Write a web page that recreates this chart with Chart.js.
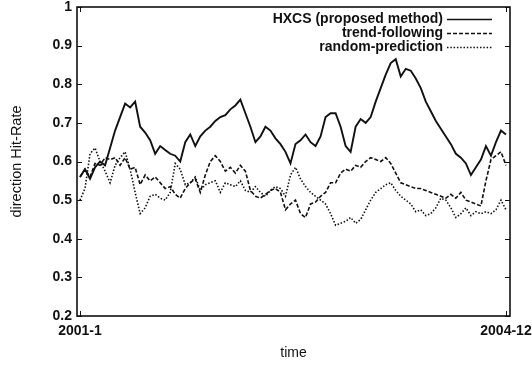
<!DOCTYPE html>
<html>
<head>
<meta charset="utf-8">
<script src="https://cdn.jsdelivr.net/npm/chart.js@4.4.1/dist/chart.umd.min.js"></script>
<style>
html,body{margin:0;padding:0;background:#fff;}
#wrap{width:532px;height:368px;position:relative;}
</style>
</head>
<body>
<div id="wrap"><canvas id="c"></canvas></div>
<script>
// ---- data ----
const xTickLabels = ['2001-1', '2004-12'];
const yTicks = [0.2, 0.3, 0.4, 0.5, 0.6, 0.7, 0.8, 0.9, 1];
const seriesNames = ['HXCS (proposed method)', 'trend-following', 'random-prediction'];
const axisTitles = { x: 'time', y: 'direction Hit-Rate' };

const hxcs = [
  0.56, 0.58, 0.555, 0.585, 0.60, 0.59, 0.635, 0.68, 0.715, 0.75,
  0.74, 0.755, 0.69, 0.675, 0.655, 0.62, 0.64, 0.63, 0.62, 0.615,
  0.60, 0.65, 0.67, 0.64, 0.665, 0.68, 0.69, 0.705, 0.715, 0.72,
  0.735, 0.745, 0.76, 0.725, 0.69, 0.65, 0.665, 0.69, 0.68, 0.66,
  0.645, 0.625, 0.595, 0.645, 0.655, 0.67, 0.65, 0.64, 0.665, 0.715,
  0.725, 0.725, 0.69, 0.64, 0.625, 0.69, 0.71, 0.70, 0.715, 0.755,
  0.79, 0.825, 0.855, 0.865, 0.82, 0.84, 0.835, 0.815, 0.79, 0.755,
  0.73, 0.705, 0.685, 0.665, 0.645, 0.62, 0.61, 0.595, 0.565, 0.585,
  0.605, 0.64, 0.615, 0.65, 0.68, 0.67
];
const trendFollowing = [
  0.56, 0.58, 0.56, 0.595, 0.59, 0.61, 0.605, 0.61, 0.59, 0.61,
  0.58, 0.585, 0.54, 0.565, 0.55, 0.56, 0.545, 0.53, 0.535, 0.515,
  0.505, 0.53, 0.545, 0.555, 0.52, 0.565, 0.60, 0.615, 0.60, 0.575,
  0.585, 0.57, 0.59, 0.575, 0.525, 0.51, 0.505, 0.515, 0.525, 0.53,
  0.52, 0.475, 0.49, 0.50, 0.465, 0.455, 0.49, 0.495, 0.51, 0.52,
  0.545, 0.545, 0.57, 0.58, 0.575, 0.59, 0.585, 0.60, 0.61, 0.605,
  0.60, 0.61, 0.595, 0.57, 0.545, 0.54, 0.535, 0.53, 0.53, 0.525,
  0.52, 0.515, 0.51, 0.505, 0.515, 0.505, 0.52, 0.50, 0.495, 0.49,
  0.485, 0.55, 0.605, 0.615, 0.625, 0.59
];
const randomPrediction = [
  0.50, 0.53, 0.62, 0.635, 0.60, 0.575, 0.545, 0.59, 0.61, 0.625,
  0.58, 0.52, 0.465, 0.48, 0.51, 0.515, 0.505, 0.50, 0.52, 0.595,
  0.58, 0.54, 0.545, 0.56, 0.525, 0.54, 0.545, 0.55, 0.52, 0.545,
  0.54, 0.535, 0.55, 0.525, 0.52, 0.535, 0.52, 0.51, 0.525, 0.535,
  0.53, 0.51, 0.565, 0.585, 0.555, 0.535, 0.52, 0.51, 0.50, 0.49,
  0.465, 0.435, 0.44, 0.445, 0.455, 0.44, 0.45, 0.475, 0.50, 0.52,
  0.53, 0.54, 0.545, 0.525, 0.51, 0.50, 0.49, 0.47, 0.475, 0.46,
  0.465, 0.48, 0.505, 0.50, 0.48, 0.455, 0.465, 0.48, 0.46, 0.47,
  0.465, 0.47, 0.465, 0.475, 0.50, 0.475
];

// ---- chart ----
const FONT = '"Liberation Sans", Arial, Helvetica, sans-serif';
const INK = '#111';
Chart.defaults.font.family = FONT;
Chart.defaults.color = INK;

const toPoints = arr => arr.map((v, i) => ({ x: i, y: v }));
const lastIndex = hxcs.length - 1;

const framePlugin = {
  id: 'frame',
  afterDatasetsDraw(chart) {
    const { ctx, chartArea: a, scales: { x, y } } = chart;
    ctx.save();
    ctx.strokeStyle = INK;
    ctx.lineWidth = 1.6;
    ctx.strokeRect(a.left, a.top, a.right - a.left, a.bottom - a.top);
    ctx.lineWidth = 1;
    const seg = (x1, y1, x2, y2) => { ctx.beginPath(); ctx.moveTo(x1, y1); ctx.lineTo(x2, y2); ctx.stroke(); };
    y.ticks.forEach(t => {
      const py = Math.round(y.getPixelForValue(t.value)) + 0.5;
      seg(a.left, py, a.left + 5, py);
      seg(a.right, py, a.right - 5, py);
    });
    x.ticks.forEach(t => {
      const px = Math.round(x.getPixelForValue(t.value)) + 0.5;
      seg(px, a.bottom, px, a.bottom - 5);
      seg(px, a.top, px, a.top + 5);
    });
    ctx.restore();
  }
};

const keyPlugin = {
  id: 'key',
  afterDraw(chart) {
    const { ctx } = chart;
    const textRight = 443, lineL = 447, lineR = 492, rowY = [19, 33, 47];
    ctx.save();
    ctx.font = 'bold 14px ' + FONT;
    ctx.textAlign = 'right';
    ctx.textBaseline = 'middle';
    chart.data.datasets.forEach((ds, i) => {
      ctx.fillStyle = INK;
      ctx.fillText(ds.label, textRight, rowY[i]);
      ctx.strokeStyle = ds.borderColor;
      ctx.lineWidth = 1.3;
      ctx.setLineDash(ds.borderDash || []);
      ctx.beginPath();
      ctx.moveTo(lineL, rowY[i] + 0.5);
      ctx.lineTo(lineR, rowY[i] + 0.5);
      ctx.stroke();
    });
    ctx.restore();
  }
};

new Chart(document.getElementById('c'), {
  type: 'line',
  data: {
    datasets: [
      { label: seriesNames[0], data: toPoints(hxcs), borderColor: INK, borderWidth: 1.9, borderDash: [] },
      { label: seriesNames[1], data: toPoints(trendFollowing), borderColor: INK, borderWidth: 1.6, borderDash: [4, 2] },
      { label: seriesNames[2], data: toPoints(randomPrediction), borderColor: INK, borderWidth: 1.6, borderDash: [1.5, 1.8] }
    ]
  },
  options: {
    responsive: true,
    maintainAspectRatio: false,
    animation: false,
    devicePixelRatio: 1,
    layout: { padding: { left: 0, right: 22, top: 7, bottom: 0 } },
    elements: { point: { radius: 0 }, line: { tension: 0, fill: false } },
    plugins: { legend: { display: false }, tooltip: { enabled: false } },
    scales: {
      x: {
        type: 'linear',
        min: -0.6,
        max: lastIndex + 0.8,
        grid: { display: false, drawTicks: false },
        border: { display: false },
        afterBuildTicks: s => { s.ticks = [{ value: 0 }, { value: lastIndex }]; },
        afterFit: s => { s.height = 52; s.paddingLeft = 0; s.paddingRight = 0; },
        ticks: {
          padding: 7,
          maxRotation: 0,
          autoSkip: false,
          font: { size: 14, weight: 'bold' },
          callback: v => (v === 0 ? xTickLabels[0] : xTickLabels[1])
        },
        title: { display: true, text: axisTitles.x, font: { size: 14 }, padding: { top: 4, bottom: 6 } }
      },
      y: {
        type: 'linear',
        min: 0.2,
        max: 1,
        grid: { display: false, drawTicks: false },
        border: { display: false },
        afterBuildTicks: s => { s.ticks = yTicks.map(v => ({ value: v })); },
        afterFit: s => { s.width = 77; s.paddingTop = 0; s.paddingBottom = 0; },
        ticks: {
          padding: 5,
          font: { size: 14, weight: 'bold' },
          callback: v => String(Math.round(v * 10) / 10)
        },
        title: { display: true, text: axisTitles.y, font: { size: 14.5 }, padding: { top: 8, bottom: 4 } }
      }
    }
  },
  plugins: [framePlugin, keyPlugin]
});
</script>
</body>
</html>
